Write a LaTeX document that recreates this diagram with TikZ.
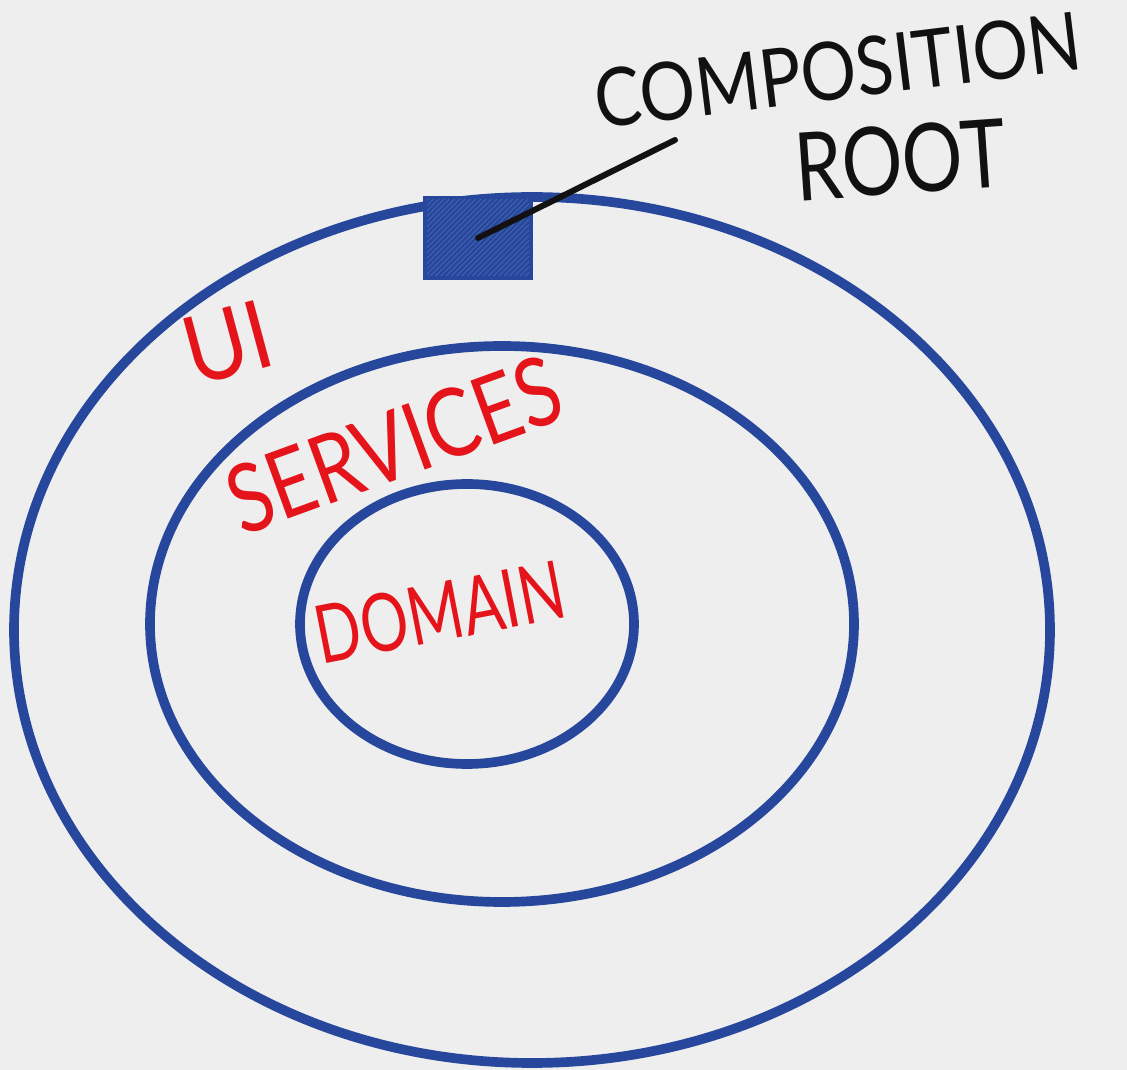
\documentclass[tikz,border=0pt]{standalone}
\usepackage{fontspec}
\setmainfont{Lato}
\usetikzlibrary{shapes.geometric,patterns}
\definecolor{bg}{HTML}{EEEEEE}
\definecolor{pen}{HTML}{26479C}
\definecolor{penlight}{HTML}{4A68B4}
\definecolor{ink}{HTML}{111111}
\definecolor{mark}{HTML}{E5141B}
\tikzset{
  ring/.style={draw=pen, line width=5.5pt, ellipse, inner sep=0pt},
  redtxt/.style={text=mark, inner sep=0pt, font=\fontsize{#1}{#1}\selectfont},
  blacktxt/.style={text=ink, inner sep=0pt, font=\fontsize{#1}{#1}\selectfont},
  leader/.style={draw=ink, line width=3.4pt, line cap=round},
}
\begin{document}
\begin{tikzpicture}[x=0.02cm,y=-0.02cm]
\fill[bg] (0,0) rectangle (1127,1070);
\useasboundingbox (0,0) rectangle (1127,1070);
% rings
\node[ring, minimum width=1036*0.02cm, minimum height=866*0.02cm] (outer) at (532,630) {};
\node[ring, minimum width=704*0.02cm, minimum height=556*0.02cm] (middle) at (502,624) {};
\node[ring, minimum width=334*0.02cm, minimum height=280*0.02cm] (inner) at (467,624) {};
% composition root box
\node[draw=pen, fill=pen, line width=4pt, minimum width=102*0.02cm, minimum height=76*0.02cm, inner sep=0pt,
      postaction={pattern=north east lines, pattern color=penlight}] (croot) at (478,238) {};
% labels
\node[blacktxt=46, rotate=7] (comp) at (838,70) {\scalebox{0.86}[1]{COMPOSITION}};
\node[blacktxt=54, rotate=4] (root) at (900,160) {\scalebox{0.8}[1]{ROOT}};
\coordinate (lead) at (675,140);
\draw[leader] (croot.center) -- (lead);
\node[redtxt=54, rotate=15] (ui) at (228,343) {\scalebox{0.9}[1]{UI}};
\node[redtxt=54, rotate=20] (svc) at (394,445) {\scalebox{0.82}[1]{SERVICES}};
\node[redtxt=46, rotate=11] (dom) at (440,612) {\scalebox{0.74}[1]{DOMAIN}};
\end{tikzpicture}
\end{document}
